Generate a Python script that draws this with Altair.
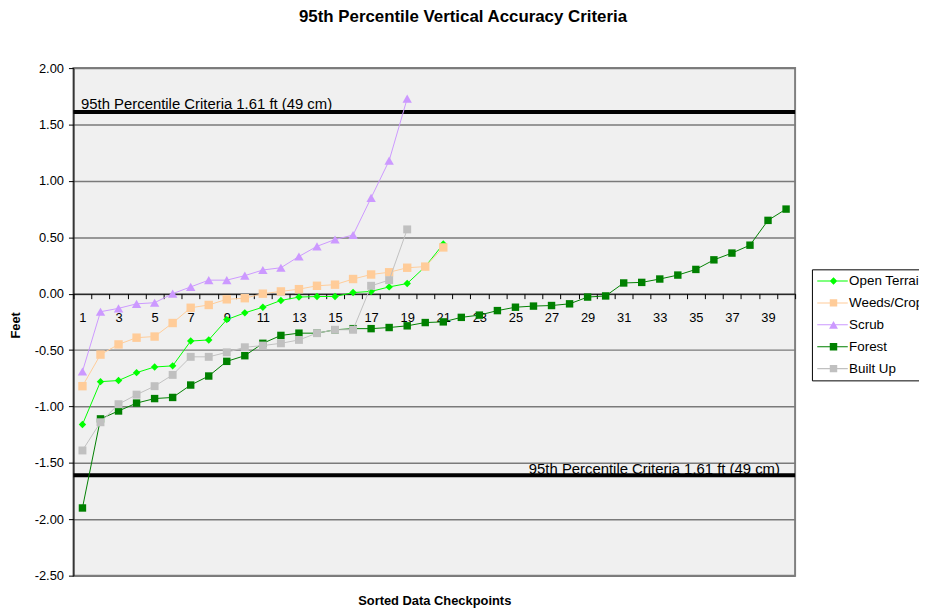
import altair as alt
import pandas as pd

# ---------------- data ----------------
series_names = ["Open Terrain", "Weeds/Crop", "Scrub", "Forest", "Built Up"]
series_colors = ["#00FF00", "#FFCC99", "#CC99FF", "#008000", "#C0C0C0"]

open_terrain = [-1.16, -0.78, -0.77, -0.70, -0.65, -0.64, -0.42, -0.41, -0.23, -0.17,
                -0.12, -0.06, -0.03, -0.025, -0.025, 0.01, 0.02, 0.06, 0.09, 0.24, 0.44]
weeds_crop = [-0.82, -0.54, -0.45, -0.39, -0.38, -0.26, -0.125, -0.10, -0.05, -0.04,
              0.00, 0.02, 0.04, 0.07, 0.08, 0.13, 0.17, 0.19, 0.23, 0.24, 0.41]
scrub = [-0.69, -0.16, -0.13, -0.09, -0.08, 0.00, 0.06, 0.12, 0.12, 0.16,
         0.21, 0.23, 0.33, 0.42, 0.48, 0.52, 0.85, 1.18, 1.73]
forest = [-1.90, -1.11, -1.04, -0.97, -0.93, -0.92, -0.81, -0.73, -0.60, -0.55,
          -0.44, -0.37, -0.35, -0.35, -0.32, -0.31, -0.31, -0.30, -0.285, -0.256,
          -0.25, -0.21, -0.19, -0.15, -0.12, -0.11, -0.105, -0.09, -0.03, -0.02,
          0.095, 0.10, 0.13, 0.165, 0.215, 0.30, 0.36, 0.43, 0.65, 0.75]
built_up = [-1.39, -1.14, -0.98, -0.895, -0.82, -0.72, -0.56, -0.56, -0.52, -0.475,
            -0.46, -0.44, -0.41, -0.35, -0.32, -0.32, 0.07, 0.12, 0.57]

x_tick_labels = [1, 3, 5, 7, 9, 11, 13, 15, 17, 19, 21, 23, 25, 27, 29, 31, 33, 35, 37, 39]
y_tick_values = [-2.5, -2.0, -1.5, -1.0, -0.5, 0.0, 0.5, 1.0, 1.5, 2.0]
criteria_values = [1.61, -1.61]
criteria_label = "95th Percentile Criteria 1.61 ft (49 cm)"
chart_title = "95th Percentile Vertical Accuracy Criteria"
x_title = "Sorted Data Checkpoints"
y_title = "Feet"

# ---------------- styles ----------------
FONT = "Liberation Sans, Arial, sans-serif"
marker_shapes = ["diamond", "square", "triangle-up", "square", "square"]
marker_sizes = [56, 72, 90, 56, 64]

LINE = "M-1.6,-0.13H6.1V0.13H-1.6Z"
legend_paths = [
    LINE + "M1.55,0L2.5,-0.95L3.45,0L2.5,0.95Z",
    LINE + "M1.56,-0.94H3.44V0.94H1.56Z",
    LINE + "M2.5,-0.97L3.625,0.97L1.375,0.97Z",
    LINE + "M1.56,-0.94H3.44V0.94H1.56Z",
    LINE + "M1.56,-0.94H3.44V0.94H1.56Z",
]

all_series = [open_terrain, weeds_crop, scrub, forest, built_up]
rows = []
for name, vals in zip(series_names, all_series):
    for i, v in enumerate(vals, start=1):
        rows.append({"series": name, "checkpoint": i, "value": v})
df = pd.DataFrame(rows)

W, H = 728, 512
y_lo, y_hi = min(y_tick_values), max(y_tick_values)
x_scale = alt.Scale(domain=[0.5, 40.5], nice=False, zero=False)
y_scale = alt.Scale(domain=[y_lo, y_hi], nice=False, zero=False)
zero_offset = -H * (0 - y_lo) / (y_hi - y_lo)
n_points = max(len(s) for s in all_series)
boundaries = [k + 0.5 for k in range(0, n_points + 1)]

y_axis = alt.Axis(
    values=y_tick_values,
    labelExpr="datum.value < 0 ? '-' + format(-datum.value, '.2f') : format(datum.value, '.2f')",
    title=y_title, grid=True, gridColor="#7a7a7a", gridWidth=1.5,
    domainColor="black", tickColor="black", tickSize=5, labelPadding=5,
    labelFontSize=13, labelFont=FONT, labelColor="black",
    titleFont=FONT, titleFontSize=13, titleFontWeight="bold", titleColor="black",
    titleX=-58, titleY=259, titleAngle=270, titleBaseline="middle", titleAlign="center",
)
x_tick_axis = alt.Axis(
    orient="bottom", offset=zero_offset, values=boundaries, labels=False,
    ticks=True, tickSize=5, tickColor="black", domain=True, domainColor="black",
    grid=False, title=None,
)
x_label_axis = alt.Axis(
    orient="bottom", offset=zero_offset, values=x_tick_labels, labels=True,
    ticks=False, tickSize=0, domain=False, grid=False, labelPadding=18,
    labelFontSize=13, labelFont=FONT, labelColor="black", labelFlush=False,
    labelOverlap=False, labelAngle=0, format="d",
    title=x_title, titleFont=FONT, titleFontSize=13, titleFontWeight="bold",
    titleColor="black", titleX=W / 2, titleY=310, titleBaseline="middle",
    titleAlign="center",
)

Y = alt.Y("value:Q", scale=y_scale, axis=y_axis)

crit_df = pd.DataFrame({"value": criteria_values})
rules = alt.Chart(crit_df).mark_rule(color="black", strokeWidth=4).encode(y=Y)

top_text = alt.Chart(pd.DataFrame({"value": [criteria_values[0]], "label": [criteria_label]})).mark_text(
    align="left", baseline="alphabetic", dx=7.7, dy=-3, fontSize=15, font=FONT, color="black"
).encode(
    x=alt.X(datum=0.5, scale=x_scale, axis=None),
    y=Y,
    text="label:N",
)
bottom_text = alt.Chart(pd.DataFrame({"value": [criteria_values[1]], "label": [criteria_label]})).mark_text(
    align="right", baseline="alphabetic", dx=-15.3, dy=-1.5, fontSize=15, font=FONT, color="black"
).encode(
    x=alt.X(datum=40.5, scale=x_scale, axis=None),
    y=Y,
    text="label:N",
)

layers = [rules, top_text, bottom_text]
for i, name in enumerate(series_names):
    sub = df[df["series"] == name]
    base = alt.Chart(sub)
    line_axis = x_tick_axis if i == 0 else None
    pt_axis = x_label_axis if i == 0 else None
    line = base.mark_line(color=series_colors[i], strokeWidth=1).encode(
        x=alt.X("checkpoint:Q", scale=x_scale, axis=line_axis),
        y=Y,
    )
    pts = base.mark_point(
        shape=marker_shapes[i], size=marker_sizes[i], filled=True,
        color=series_colors[i], opacity=1,
    ).encode(
        x=alt.X("checkpoint:Q", scale=x_scale, axis=pt_axis),
        y=Y,
    )
    layers += [line, pts]

legend_def = alt.Legend(
    title=None, orient="none", legendX=745, legendY=203,
    strokeColor="black", fillColor="white", padding=5,
    labelFontSize=13.5, labelFont=FONT, labelColor="black",
    symbolSize=64, labelOffset=19, rowPadding=7.1, symbolStrokeWidth=0,
    symbolOpacity=1,
)
# legend-only layer: no rows, so it draws nothing; the legend comes from the explicit domains
legend_layer = alt.Chart(df.iloc[0:0]).mark_point(filled=True, size=64).encode(
    x=alt.X("checkpoint:Q", scale=x_scale, axis=None),
    y=Y,
    color=alt.Color("series:N", scale=alt.Scale(domain=series_names, range=series_colors), legend=legend_def),
    shape=alt.Shape("series:N", scale=alt.Scale(domain=series_names, range=legend_paths), legend=legend_def),
)
layers.append(legend_layer)

chart = alt.layer(*layers).resolve_axis(x="independent").properties(
    width=W, height=H,
    autosize=alt.AutoSizeParams(type="none"),
    padding={"left": 66, "top": 58, "right": 125, "bottom": 30},
    title=alt.Title(chart_title, fontSize=17, fontWeight="bold", font=FONT, color="black",
                    anchor="middle", frame="group", dx=29, offset=24, baseline="alphabetic"),
    background="white",
).configure(
    font=FONT,
    view=alt.ViewConfig(fill="#f0f0f0", stroke="#808080", strokeWidth=2),
)

chart.save("out.html", embed_options={"renderer": "svg", "actions": False})
